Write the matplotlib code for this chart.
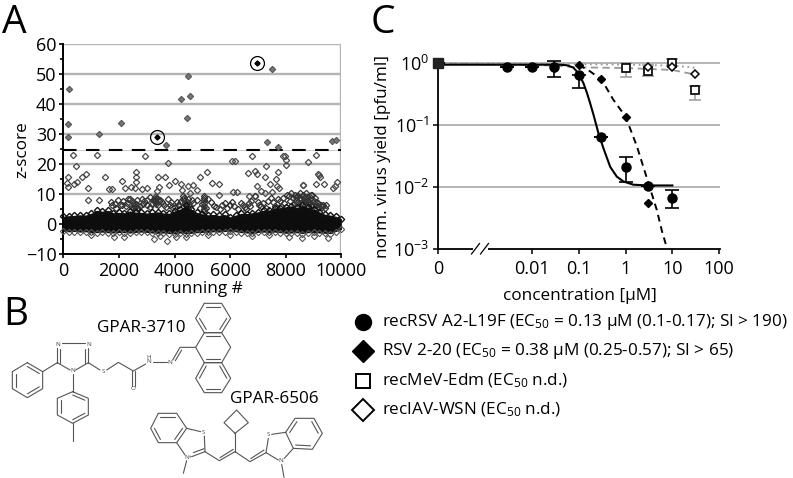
import matplotlib
matplotlib.use("Agg")
import matplotlib.pyplot as plt
from matplotlib.patches import Rectangle

plt.rcParams["font.family"] = ["Open Sans", "DejaVu Sans"]
plt.rcParams["mathtext.default"] = "regular"

W, H = 793, 478

# panel A, values
hit_x = [3380, 6960]
hit_y = [29.2, 53.8]
high_x = [204, 180, 180, 1293, 2060, 7520, 4480, 4230, 4560, 4440, 3690, 7340, 7725, 9665, 9820]
high_y = [45, 33.3, 28.9, 30, 33.7, 51.8, 49.3, 41.8, 42.7, 35.3, 26.5, 27.3, 25.6, 27.7, 28.1]
mid_x = [335, 455, 1210, 2935, 3750, 6050, 6180, 6790, 7915, 7960, 8020, 8020, 8810, 9100, 7290,
         180, 120, 180, 383, 479, 659, 814, 874, 898, 1293, 1509, 1640, 1760, 2120, 2215, 2431, 2575,
         2611, 2611, 2611, 2838, 2994, 3413, 3653, 3450, 3353, 3796, 4000, 4228, 4251, 4467, 4647,
         4551, 4790, 4922, 5174, 5341, 5593, 5593, 6108, 6263, 6647, 6910, 6982, 7257, 6982, 7425,
         7509, 7257, 7126, 7641, 7725, 7700, 7760, 9090, 9377, 9162, 9200, 9222, 9844, 9760, 9700,
         8635, 8610, 6695, 6886]
mid_y = [23, 19.5, 23, 22.8, 20.4, 21.1, 21.1, 22.8, 22.6, 22.6, 21.4, 19.7, 20.6, 23, 19.5,
         15.8, 13.6, 12.3, 13.4, 14.2, 15.8, 16.6, 12.1, 8, 8, 15.7, 11.8, 11.6, 14.4, 12.1, 12.5, 12,
         14.2, 15.8, 17.3, 11.6, 12, 15.8, 15.8, 12.3, 10.9, 13, 14.4, 13.4, 11.4, 12.7, 13,
         10.5, 11.4, 15.8, 17.3, 13.7, 13.5, 9.7, 10.7, 10.7, 17, 17.8, 16.8, 15.6, 12.7, 13.2,
         10.6, 10.5, 10.9, 15.2, 17.3, 12.7, 12, 13.3, 13.4, 16.7, 16.5, 15.8, 14.2, 12.8, 12,
         13, 13, 9.2, 9.3]
band_x = [1980, 2160, 2340, 2460, 2640, 2820, 1860, 2040, 2250, 2460, 2640, 2880, 3020, 3110, 3210, 3350,
          3470, 3620, 3770, 3890, 4010, 4170, 4310, 4430, 4610, 4790, 4970, 5050, 5050, 5050, 5050, 5050,
          5050, 5050, 5413, 5808, 5630, 6070, 6290, 6466, 6586, 6765, 6700, 6885, 7184, 7364, 7480, 7600,
          7780, 7900, 8046, 8200, 8380, 8500, 8620, 8740, 8920, 9040, 8380, 8500, 8720, 8920, 9100, 9280,
          9460, 9130, 3250, 3300, 3340, 3290, 3400, 3360, 2530, 2580, 2620, 2490, 4300, 4340, 4390, 4450,
          4500, 1700, 1760, 2700, 2900, 3000, 3900, 4100, 5200, 5500, 5720, 5900, 6150, 6400, 7000, 7050,
          7680, 7840, 8100, 8150, 8290, 8450, 8550, 8600, 8680, 8800, 8850, 8950, 9000, 9200, 9350]
band_y = [8, 7.6, 8.2, 7.6, 8, 8.2, 6.8, 6.5, 6, 5.7, 5.2, 6.8, 7.9, 9, 7.9, 6.8,
          7.9, 6.2, 8.5, 7.4, 5.7, 6.5, 8.5, 6.2, 7.9, 7.9, 6.8, 9.5, 8.8, 8, 7, 6,
          5, 4.3, 6, 7, 5, 7.3, 5, 6.5, 5, 7.6, 6, 9.2, 7, 7.6, 8.7, 6,
          7.6, 8.7, 9.8, 10.3, 8, 10.3, 9.8, 10.3, 9.8, 8.7, 9, 8.7, 7.6, 6.5, 6.5, 6.5,
          6.5, 5, 8, 7.6, 7.2, 8.3, 6.5, 8.7, 6.2, 5.8, 6.6, 5.5, 9.5, 8.8, 8, 7.2,
          6.5, 7.3, 6.2, 5.5, 7.8, 6.4, 5.8, 7.2, 8.5, 5.6, 6.3, 5.4, 6, 7, 7.2, 6.4,
          5.5, 6.1, 9.2, 7.8, 6.6, 9.4, 8.2, 7.4, 9, 8, 6.7, 9.6, 7.8, 5.6, 6.4]
band2_x = [1900, 2100, 2300, 2400, 2560, 2760, 3100, 3200, 3280, 3310, 3430, 3560, 3700, 3840, 4120, 4230,
           4360, 4470, 4550, 4680, 4900, 5120, 5300, 6000, 6550, 6680, 7100, 7300, 7550, 7720, 7950, 8250,
           8330, 8420, 8560, 8640, 8700, 8760, 8830, 8900, 8980, 9080, 9150, 9300, 9400]
band2_y = [5.4, 6.2, 6.9, 8.3, 7.1, 5.9, 5.7, 6.7, 8.9, 7.9, 7.7, 7.2, 5.6, 6.3, 6.2, 7.8,
           7.0, 8.4, 5.9, 6.9, 5.3, 5.5, 7.4, 6.4, 5.7, 7.1, 5.9, 5.3, 7.2, 8.3, 7.0, 8.8,
           9.6, 7.1, 6.9, 8.6, 7.6, 9.1, 7.2, 8.8, 6.2, 7.4, 7.0, 5.7, 5.2]
low_x = [3260, 3725, 8600, 9520, 4070, 1830, 2180, 8100, 6800, 6000, 3480, 4400, 5200, 7400, 9000, 1000]
low_y = [-5, -5.7, -4.5, -4.7, -4.4, -4.2, -4.2, -4.4, -4.1, -3.8, -3.9, -4.2, -3.6, -3.7, -4.1, -3.6]
cloud_x = [0, 200, 400, 600, 800, 1000, 1200, 1400, 1600, 1800, 2000, 2200, 2400, 2600, 2800, 3000, 3200,
           3400, 3600, 3800, 4000, 4200, 4400, 4600, 4800, 5000, 5200, 5400, 5600, 5800, 6000, 6200,
           6400, 6600, 6800, 7000, 7200, 7400, 7600, 7800, 8000, 8200, 8400, 8600, 8800, 9000, 9200,
           9400, 9600, 9800, 10000]
cloud_top = [2.6, 2.8, 2.9, 3.1, 3.0, 3.6, 4.6, 4.3, 4.6, 3.8, 3.9, 3.8, 4.4, 4.0, 3.9, 3.7, 3.9,
             4.1, 3.7, 3.6, 4.4, 5.0, 6.2, 5.0, 3.9, 3.4, 3.1, 3.2, 2.9, 3.2, 2.4, 3.0,
             3.6, 3.5, 3.8, 4.1, 4.6, 4.7, 5.2, 5.4, 5.8, 6.1, 5.6, 6.2, 5.6, 5.0, 4.1,
             3.3, 3.0, 2.6, 1.8]
cloud_bot = [-2.4, -2.6, -2.5, -2.7, -2.6, -2.8, -2.9, -2.7, -2.9, -3.0, -2.8, -2.9, -3.0, -2.8, -2.7, -2.8, -3.0,
             -3.1, -3.0, -3.2, -3.3, -3.0, -3.2, -3.1, -2.9, -2.8, -2.7, -2.6, -2.7, -2.5, -2.4, -2.6,
             -2.9, -3.0, -3.1, -2.8, -2.7, -2.8, -2.7, -2.9, -3.1, -3.0, -2.9, -3.2, -2.9, -2.8, -3.0,
             -3.1, -3.2, -2.5, -1.8]
z_cutoff = 24.7
a_yticks = [-10, 0, 10, 20, 30, 40, 50, 60]
a_xticks = [0, 2000, 4000, 6000, 8000, 10000]

# panel C
conc_ticks = [0.0001, 0.01, 0.1, 1, 10, 100]
conc_labels = ["0", "0.01", "0.1", "1", "10", "100"]
yield_ticks = [0.001, 0.01, 0.1, 1]
yield_labels = ["$10^{-3}$", "$10^{-2}$", "$10^{-1}$", "$10^{0}$"]

rsv_x = [0.0001, 0.003, 0.01, 0.03, 0.1, 0.3, 1, 3, 10]
rsv_y = [1.0, 0.88, 0.88, 0.86, 0.65, 0.065, 0.021, 0.0103, 0.0067]
rsv_lo = [1.0, 0.88, 0.88, 0.6, 0.4, 0.065, 0.012, 0.0103, 0.0046]
rsv_hi = [1.0, 0.88, 0.88, 1.09, 0.65, 0.065, 0.0307, 0.0103, 0.009]
rsv_fit_x = [0.0001, 0.01, 0.04, 0.056, 0.077, 0.1, 0.127, 0.15, 0.175, 0.207, 0.263, 0.337, 0.47, 0.65, 0.9, 1.47, 3.1, 10]
rsv_fit_y = [0.95, 0.95, 0.95, 0.93, 0.85, 0.68, 0.47, 0.33, 0.226, 0.146, 0.074, 0.042, 0.021, 0.0146, 0.0122, 0.0108, 0.0105, 0.0105]

r220_x = [0.0001, 0.03, 0.1, 0.3, 1, 3]
r220_y = [1.0, 0.84, 0.93, 0.556, 0.136, 0.0055]
r220_fit_x = [0.1, 0.175, 0.31, 0.55, 1, 1.75, 3.1, 4.65, 6, 7.7]
r220_fit_y = [0.95, 0.74, 0.54, 0.256, 0.137, 0.045, 0.0113, 0.0042, 0.0019, 0.001]

mev_x = [0.0001, 1, 3, 10, 30]
mev_y = [1.0, 0.84, 0.76, 1.01, 0.364]
mev_lo = [1.0, 0.6, 0.63, 0.89, 0.256]
mev_hi = [1.0, 1.01, 0.95, 1.18, 0.43]
mev_fit_x = [0.0001, 0.1, 1, 10, 30]
mev_fit_y = [1.0, 0.97, 0.95, 0.92, 0.85]

iav_x = [0.0001, 3, 10, 30]
iav_y = [1.0, 0.86, 0.86, 0.66]
iav_fit_x = [0.0001, 0.03, 0.1, 1, 10, 30]
iav_fit_y = [1.0, 0.92, 0.86, 0.84, 0.78, 0.66]

legend_labels = ["recRSV A2-L19F (EC$_{50}$ = 0.13 µM (0.1-0.17); SI > 190)",
                 "RSV 2-20 (EC$_{50}$ = 0.38 µM (0.25-0.57); SI > 65)",
                 "recMeV-Edm (EC$_{50}$ n.d.)",
                 "recIAV-WSN (EC$_{50}$ n.d.)"]

GRID = "#b4b4b4"
TEXT = 12.3
fig = plt.figure(figsize=(W / 100, H / 100), dpi=100)


def box(x0, y0, x1, y1):
    return [x0 / W, 1 - y1 / H, (x1 - x0) / W, (y1 - y0) / H]


# ---- A
ax = fig.add_axes(box(63.3, 44.3, 341.4, 254))
ax.set_xlim(0, 10000)
ax.set_ylim(-10, 60)
for v in [10, 20, 30, 40, 50, 60]:
    ax.axhline(v, color=GRID, lw=1.7, zorder=1)
ax.axvline(10000, color=GRID, lw=1.7, zorder=1)
ax.axhline(z_cutoff, color="#cccccc", lw=0.7, zorder=1)
ax.axhline(z_cutoff, color="black", lw=1.5, dashes=(6.5, 4.5), zorder=2)

diamond = dict(marker="D", ms=3.2, mfc="none", ls="none", clip_on=False)
ax.plot(mid_x, mid_y, mec="#4a4a4a", mew=0.9, zorder=3, **diamond)
ax.plot(band_x, band_y, mec="#333333", mew=0.9, zorder=3, **diamond)
ax.plot(band2_x, band2_y, mec="#333333", mew=0.9, zorder=3, **diamond)
ax.plot(low_x, low_y, mec="#555555", mew=0.8, zorder=3, **diamond)
ax.plot(high_x, high_y, marker="D", ms=3.2, mfc="#777777", mec="#555555", mew=0.8, ls="none", zorder=3)
ax.fill_between(cloud_x, cloud_bot, cloud_top, color="#0d0d0d", lw=0, zorder=4)
ax.plot(cloud_x, cloud_top, mec="#111111", mew=1, zorder=4, **diamond)
ax.plot(cloud_x, cloud_bot, mec="#555555", mew=0.8, zorder=4, **diamond)
ax.plot(hit_x, hit_y, marker="D", ms=2.6, color="black", ls="none", zorder=5)
ax.plot(hit_x, hit_y, marker="o", ms=10, mfc="none", mec="black", mew=0.9, ls="none", zorder=5)

ax.set_xticks(a_xticks)
ax.set_yticks(a_yticks)
ax.set_yticks(range(-5, 60, 10), minor=True)
ax.tick_params(axis="both", labelsize=13, length=3, width=1.2, pad=2)
ax.tick_params(axis="x", pad=3)
ax.tick_params(axis="y", which="minor", length=2, width=1.2)
ax.spines["top"].set_visible(False)
ax.spines["right"].set_visible(False)
ax.spines["left"].set_linewidth(1.4)
ax.spines["bottom"].set_linewidth(1.4)

# ---- C
cx = fig.add_axes(box(438.3, 58, 720, 248.5))
cx.set_xscale("log")
cx.set_yscale("log")
cx.set_xlim(0.0001, 104)
cx.set_ylim(0.001, 1.22)
for v in [1, 0.1, 0.01]:
    cx.axhline(v, color=GRID, lw=1.4, zorder=1)

cx.plot(mev_fit_x, mev_fit_y, color="#999999", lw=1.3, ls=(0, (1, 2)), zorder=2)
cx.plot(iav_fit_x, iav_fit_y, color="#999999", lw=1.3, ls=(0, (4, 2.5)), zorder=2)
cx.errorbar(mev_x, mev_y, yerr=[[a - b for a, b in zip(mev_y, mev_lo)], [b - a for a, b in zip(mev_y, mev_hi)]],
            ls="none", ecolor="#9a9a9a", elinewidth=1.1, capsize=4.5, capthick=1.1, zorder=2)
cx.plot(mev_x, mev_y, marker="s", ms=6.3, mfc="white", mec="black", mew=1.2, ls="none", zorder=3, clip_on=False)
cx.plot(iav_x, iav_y, marker="D", ms=4.3, mfc="white", mec="black", mew=1.1, ls="none", zorder=4, clip_on=False)

cx.plot(r220_fit_x, r220_fit_y, color="black", lw=1.4, ls=(0, (3.5, 2.5)), zorder=5)
cx.plot(r220_x, r220_y, marker="D", ms=3.8, color="black", ls="none", zorder=6, clip_on=False)
cx.plot(rsv_fit_x, rsv_fit_y, color="black", lw=1.5, zorder=5)
cx.errorbar(rsv_x, rsv_y, yerr=[[a - b for a, b in zip(rsv_y, rsv_lo)], [b - a for a, b in zip(rsv_y, rsv_hi)]],
            ls="none", ecolor="black", elinewidth=1.2, capsize=4.7, capthick=1.2, zorder=6)
cx.plot(rsv_x, rsv_y, marker="o", ms=6.5, color="black", ls="none", zorder=6, clip_on=False)
cx.plot([0.0001], [1.0], marker="s", ms=7, color="#222222", ls="none", zorder=7, clip_on=False)

cx.set_xticks(conc_ticks)
cx.set_xticklabels(conc_labels)
cx.set_yticks(yield_ticks)
cx.set_yticklabels(yield_labels)
cx.minorticks_off()
cx.tick_params(axis="both", labelsize=13, length=3.5, width=1.1, pad=5)
cx.tick_params(axis="y", pad=3)
cx.spines["top"].set_visible(False)
cx.spines["right"].set_visible(False)
cx.spines["left"].set_bounds(0.001, 1)
cx.spines["left"].set_linewidth(1.3)
cx.spines["bottom"].set_linewidth(1.3)

# ---- overlay in image pixels: labels, legend, molecules
ov = fig.add_axes([0, 0, 1, 1], zorder=10)
ov.set_xlim(0, W)
ov.set_ylim(H, 0)
ov.axis("off")

ov.text(2, 33, "A", fontsize=28, va="baseline")
ov.text(3, 325, "B", fontsize=28, va="baseline")
ov.text(371, 33, "C", fontsize=28, va="baseline")
ov.text(203, 289, "running #", fontsize=TEXT, ha="center", va="center")
ov.text(22, 150, "z-score", fontsize=TEXT, rotation=90, ha="center", va="center")
ov.text(580, 296, "concentration [µM]", fontsize=TEXT, ha="center", va="center")
ov.text(383, 157, "norm. virus yield [pfu/ml]", fontsize=TEXT, rotation=90, ha="center", va="center")

# axis break
ov.add_patch(Rectangle((473, 246), 15, 5, fc="white", ec="none"))
ov.plot([471.5, 479.5], [254, 243.5], color="black", lw=0.9)
ov.plot([480.5, 488.5], [254, 243.5], color="black", lw=0.9)

# legend
legend_y = [321.5, 351, 381, 410]
ov.plot(362.7, legend_y[0], marker="o", ms=11.5, color="black")
ov.plot(362.7, legend_y[1], marker="D", ms=11.5, color="black")
ov.plot(362.7, legend_y[2], marker="s", ms=10.5, mfc="white", mec="black", mew=1.4)
ov.plot(362.7, legend_y[3], marker="D", ms=11.5, mfc="white", mec="black", mew=1.4)
for y, label in zip(legend_y, legend_labels):
    ov.text(381.5, y, label, fontsize=TEXT, va="center")

ov.text(97, 328, "GPAR-3710", fontsize=TEXT, va="center")
ov.text(230, 399, "GPAR-6506", fontsize=TEXT, va="center")

BOND = "#555555"


def zx(p):
    return p[0] / 3, 290 + p[1] / 3


def chain(*pts):
    xs, ys = zip(*[zx(p) for p in pts])
    ov.plot(xs, ys, color=BOND, lw=0.8, solid_capstyle="round")


def ring(pts, doubles=()):
    chain(*pts, pts[0])
    mx = sum(p[0] for p in pts) / len(pts)
    my = sum(p[1] for p in pts) / len(pts)
    for i in doubles:
        a, b = pts[i], pts[(i + 1) % len(pts)]
        f = 0.78
        chain((mx + (a[0] - mx) * f, my + (a[1] - my) * f), (mx + (b[0] - mx) * f, my + (b[1] - my) * f))


def atom(p, s):
    x, y = zx(p)
    ov.text(x, y, s, fontsize=4.5, color="#444444", ha="center", va="center")


# GPAR-3710
ring([(82, 218), (128, 245), (128, 296), (82, 323), (37, 296), (37, 245)], [0, 2, 4])
chain((128, 245), (172, 218))
chain((172, 218), (172, 175))
chain((181, 218), (181, 178))
chain((185, 160), (255, 160))
chain((265, 175), (265, 218))
chain((256, 178), (256, 218))
chain((172, 218), (210, 240))
chain((227, 240), (265, 218), (300, 240))
chain((320, 240), (355, 217), (400, 243), (437, 222))
chain((396, 243), (396, 288))
chain((405, 243), (405, 288))
chain((458, 215), (500, 215))
chain((518, 210), (540, 172), (587, 172))
chain((526, 212), (545, 180))
ring([(613, 40), (665, 40), (692, 85), (665, 128), (613, 128), (587, 85)], [0, 2, 4])
ring([(613, 128), (665, 128), (692, 172), (665, 218), (613, 218), (587, 172)], [0, 3])
ring([(613, 218), (665, 218), (692, 265), (665, 308), (613, 308), (587, 265)], [1, 3, 5])
chain((218, 252), (218, 305))
ring([(218, 305), (265, 325), (265, 375), (218, 400), (172, 375), (172, 325)], [0, 2, 4])
chain((218, 400), (218, 452))
atom((172, 165), "N")
atom((265, 165), "N")
atom((218, 243), "N")
atom((310, 245), "S")
atom((400, 297), "O")
atom((447, 214), "N")
atom((447, 202), "H")
atom((510, 218), "N")

# GPAR-6506
ring([(475, 370), (530, 370), (560, 415), (530, 458), (475, 458), (452, 415)], [0, 2, 4])
chain((560, 415), (602, 425))
chain((613, 438), (615, 485))
chain((615, 485), (575, 500))
chain((612, 476), (580, 488))
chain((555, 495), (530, 458))
chain((560, 512), (550, 550))
chain((615, 485), (658, 512), (705, 485))
chain((660, 503), (700, 478))
chain((705, 485), (705, 430))
ring([(705, 430), (745, 398), (710, 360), (672, 398)])
chain((705, 485), (750, 515), (798, 488))
chain((752, 506), (792, 480))
chain((798, 488), (805, 445))
chain((815, 433), (857, 427))
chain((798, 488), (835, 510))
chain((853, 505), (880, 475))
ring([(857, 427), (885, 385), (942, 385), (967, 430), (937, 478), (880, 475)], [0, 2, 4])
chain((845, 523), (852, 562))
atom((565, 502), "N+")
atom((610, 428), "S")
atom((805, 435), "S")
atom((843, 513), "N")

fig.savefig("out.png", dpi=100)
